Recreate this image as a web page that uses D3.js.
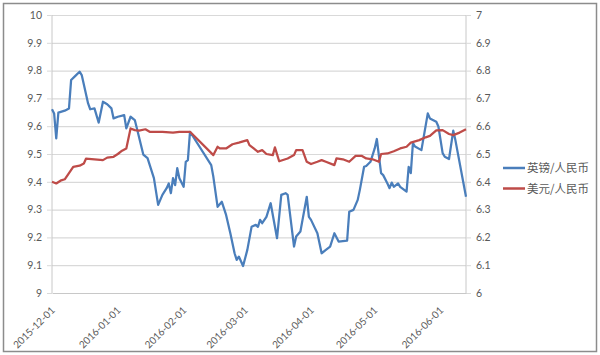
<!DOCTYPE html>
<html lang="zh">
<head>
<meta charset="UTF-8">
<title>英镑/人民币 与 美元/人民币</title>
<script src="https://cdnjs.cloudflare.com/ajax/libs/d3/7.8.5/d3.min.js"></script>
<style>
  body { margin: 0; background: #fff; }
  svg text { font-family: Lato, "Liberation Sans", sans-serif; fill: #595959; }
</style>
</head>
<body>
<svg width="600" height="355"></svg>
<script>
// 英镑/人民币 (left axis)
var gbpDates = ['2015-12-01','2015-12-02','2015-12-03','2015-12-04','2015-12-07','2015-12-09','2015-12-10','2015-12-12','2015-12-14','2015-12-15','2015-12-18','2015-12-19','2015-12-21','2015-12-23','2015-12-25','2015-12-27','2015-12-29','2015-12-30',
  '2016-01-01','2016-01-04','2016-01-05','2016-01-07','2016-01-09','2016-01-10','2016-01-13','2016-01-15','2016-01-18','2016-01-20','2016-01-22','2016-01-24','2016-01-25','2016-01-26','2016-01-27','2016-01-28','2016-01-29','2016-01-30',
  '2016-02-01','2016-02-02','2016-02-03','2016-02-04','2016-02-14','2016-02-15','2016-02-17','2016-02-19','2016-02-21','2016-02-23','2016-02-25','2016-02-26','2016-02-27','2016-02-29',
  '2016-03-02','2016-03-04','2016-03-06','2016-03-07','2016-03-08','2016-03-09','2016-03-11','2016-03-13','2016-03-16','2016-03-18','2016-03-20','2016-03-21','2016-03-24','2016-03-25','2016-03-27','2016-03-28','2016-03-30','2016-03-31',
  '2016-04-01','2016-04-04','2016-04-06','2016-04-08','2016-04-10','2016-04-12','2016-04-14','2016-04-18','2016-04-19','2016-04-21','2016-04-23','2016-04-24','2016-04-26','2016-04-27','2016-04-29',
  '2016-05-01','2016-05-02','2016-05-04','2016-05-05','2016-05-07','2016-05-08','2016-05-09','2016-05-10','2016-05-12','2016-05-13','2016-05-16','2016-05-17','2016-05-18','2016-05-19','2016-05-20','2016-05-23','2016-05-26','2016-05-27','2016-05-30','2016-05-31',
  '2016-06-02','2016-06-03','2016-06-05','2016-06-07','2016-06-08','2016-06-13']
var gbpRates = [9.661,9.646,9.556,9.649,9.656,9.664,9.766,9.781,9.796,9.784,9.682,9.661,9.664,9.613,9.688,9.679,9.664,9.628,
  9.634,9.640,9.592,9.634,9.622,9.592,9.498,9.485,9.413,9.317,9.353,9.377,9.394,9.359,9.413,9.388,9.449,9.413,
  9.382,9.472,9.478,9.580,9.460,9.418,9.310,9.328,9.281,9.215,9.143,9.119,9.131,9.097,
  9.155,9.238,9.245,9.238,9.263,9.251,9.274,9.323,9.197,9.353,9.359,9.353,9.167,9.203,9.221,9.263,9.346,9.274,
  9.263,9.215,9.143,9.155,9.167,9.215,9.185,9.188,9.292,9.299,9.335,9.371,9.454,9.457,9.472,
  9.520,9.554,9.431,9.424,9.394,9.377,9.397,9.382,9.394,9.382,9.365,9.454,9.431,9.539,9.527,9.514,9.646,9.628,9.616,9.599,
  9.503,9.490,9.482,9.584,9.550,9.346]

// 美元/人民币 (right axis)
var usdDates = ['2015-12-01','2015-12-03','2015-12-05','2015-12-07','2015-12-09','2015-12-11','2015-12-14','2015-12-16','2015-12-17','2015-12-21','2015-12-25','2015-12-27','2015-12-30',
  '2016-01-01','2016-01-03','2016-01-05','2016-01-07','2016-01-09','2016-01-11','2016-01-14','2016-01-16','2016-01-22','2016-01-27','2016-01-30',
  '2016-02-04','2016-02-15','2016-02-17','2016-02-18','2016-02-21','2016-02-24','2016-02-27',
  '2016-03-02','2016-03-03','2016-03-05','2016-03-07','2016-03-09','2016-03-11','2016-03-14','2016-03-15','2016-03-17','2016-03-21','2016-03-24','2016-03-25','2016-03-28','2016-03-30',
  '2016-04-01','2016-04-04','2016-04-06','2016-04-08','2016-04-12','2016-04-13','2016-04-16','2016-04-19','2016-04-22','2016-04-25','2016-04-27','2016-04-30',
  '2016-05-03','2016-05-04','2016-05-07','2016-05-10','2016-05-13','2016-05-16','2016-05-18','2016-05-22','2016-05-25','2016-05-27','2016-05-30',
  '2016-06-02','2016-06-05','2016-06-07','2016-06-10','2016-06-13']
var usdRates = [6.400,6.394,6.404,6.409,6.431,6.454,6.458,6.466,6.483,6.481,6.478,6.487,6.490,
  6.500,6.512,6.520,6.592,6.586,6.584,6.589,6.580,6.580,6.577,6.580,
  6.580,6.496,6.526,6.520,6.520,6.535,6.541,
  6.550,6.532,6.520,6.508,6.514,6.500,6.496,6.524,6.474,6.484,6.496,6.514,6.514,6.472,
  6.464,6.472,6.478,6.472,6.460,6.484,6.481,6.472,6.493,6.493,6.484,6.481,
  6.472,6.500,6.502,6.510,6.520,6.526,6.541,6.550,6.560,6.565,6.585,
  6.586,6.572,6.568,6.577,6.589]

var leftTicks = [9, 9.1, 9.2, 9.3, 9.4, 9.5, 9.6, 9.7, 9.8, 9.9, 10]
var rightTicks = [6, 6.1, 6.2, 6.3, 6.4, 6.5, 6.6, 6.7, 6.8, 6.9, 7]
var monthTicks = ['2015-12-01','2016-01-01','2016-02-01','2016-03-01','2016-04-01','2016-05-01','2016-06-01']
var seriesNames = ['英镑/人民币', '美元/人民币']
var seriesColors = ['#4a7ebb', '#be4b48']

var parse = d3.timeParse('%Y-%m-%d')
var svg = d3.select('svg')

// chart frame
svg.append('rect').attr('x', 3.5).attr('y', 3.5).attr('width', 593).attr('height', 348)
  .attr('fill', '#fff').attr('stroke', '#8c8c8c').attr('stroke-width', 1.5)

var plotLeft = 52, plotRight = 466, plotTop = 15, plotBottom = 293

var x = d3.scaleTime()
  .domain([parse('2015-12-01'), parse('2016-06-13')])
  .range([plotLeft, plotRight])
var yL = d3.scaleLinear().domain([9, 10]).range([plotBottom, plotTop])
var yR = d3.scaleLinear().domain([6, 7]).range([plotBottom, plotTop])

// gridlines
svg.append('g').attr('transform', 'translate(' + plotLeft + ',0)')
  .call(d3.axisLeft(yL).tickValues(leftTicks.slice(1)).tickSize(-(plotRight - plotLeft)).tickFormat(''))
  .call(function (g) {
    g.select('.domain').remove()
    g.selectAll('line').attr('stroke', '#d9d9d9').attr('stroke-width', 1.2)
  })

// left axis
svg.append('g').attr('transform', 'translate(' + plotLeft + ',0)')
  .call(d3.axisLeft(yL).tickValues(leftTicks).tickSize(5).tickPadding(5).tickFormat(function (d) { return d }))
  .call(function (g) {
    g.select('.domain').attr('stroke', '#c8c8c8').attr('d', 'M0,' + plotTop + 'V' + plotBottom)
    g.selectAll('line').attr('stroke', '#d9d9d9')
    g.selectAll('text').style('font-size', '10.5px')
  })

// right axis
svg.append('g').attr('transform', 'translate(' + plotRight + ',0)')
  .call(d3.axisRight(yR).tickValues(rightTicks).tickSize(5).tickPadding(5).tickFormat(function (d) { return d }))
  .call(function (g) {
    g.select('.domain').attr('stroke', '#c8c8c8').attr('d', 'M0,' + plotTop + 'V' + plotBottom)
    g.selectAll('line').attr('stroke', '#d9d9d9')
    g.selectAll('text').style('font-size', '10.5px')
  })

// bottom axis with rotated date labels
svg.append('g').attr('transform', 'translate(0,' + plotBottom + ')')
  .call(d3.axisBottom(x).tickValues(monthTicks.map(parse)).tickSize(0).tickFormat(d3.timeFormat('%Y-%m-%d')))
  .call(function (g) {
    g.select('.domain').attr('stroke', '#c8c8c8')
    g.selectAll('text')
      .attr('y', 0).attr('dy', 0)
      .attr('transform', 'translate(3,18) rotate(-45)')
      .style('text-anchor', 'end')
      .style('font-size', '10px')
  })

var gbp = gbpDates.map(function (d, i) { return { date: parse(d), v: gbpRates[i] } })
var usd = usdDates.map(function (d, i) { return { date: parse(d), v: usdRates[i] } })

var lineL = d3.line().x(function (d) { return x(d.date) }).y(function (d) { return yL(d.v) })
var lineR = d3.line().x(function (d) { return x(d.date) }).y(function (d) { return yR(d.v) })

svg.append('path').datum(gbp).attr('d', lineL)
  .attr('fill', 'none').attr('stroke', seriesColors[0]).attr('stroke-width', 2.25).attr('stroke-linejoin', 'round')
svg.append('path').datum(usd).attr('d', lineR)
  .attr('fill', 'none').attr('stroke', seriesColors[1]).attr('stroke-width', 2.25).attr('stroke-linejoin', 'round')

// legend
var legend = svg.append('g').attr('transform', 'translate(503,168)')
var items = legend.selectAll('g').data(seriesNames).enter().append('g')
  .attr('transform', function (d, i) { return 'translate(0,' + i * 20.5 + ')' })
items.append('line').attr('x1', 0).attr('x2', 22).attr('y1', 0).attr('y2', 0)
  .attr('stroke', function (d, i) { return seriesColors[i] }).attr('stroke-width', 2.5)
items.append('text').attr('x', 24).attr('y', 0).attr('dy', '0.35em')
  .style('font-family', '"Noto Sans CJK SC", sans-serif').style('font-size', '11.5px')
  .text(function (d) { return d })
</script>
</body>
</html>
